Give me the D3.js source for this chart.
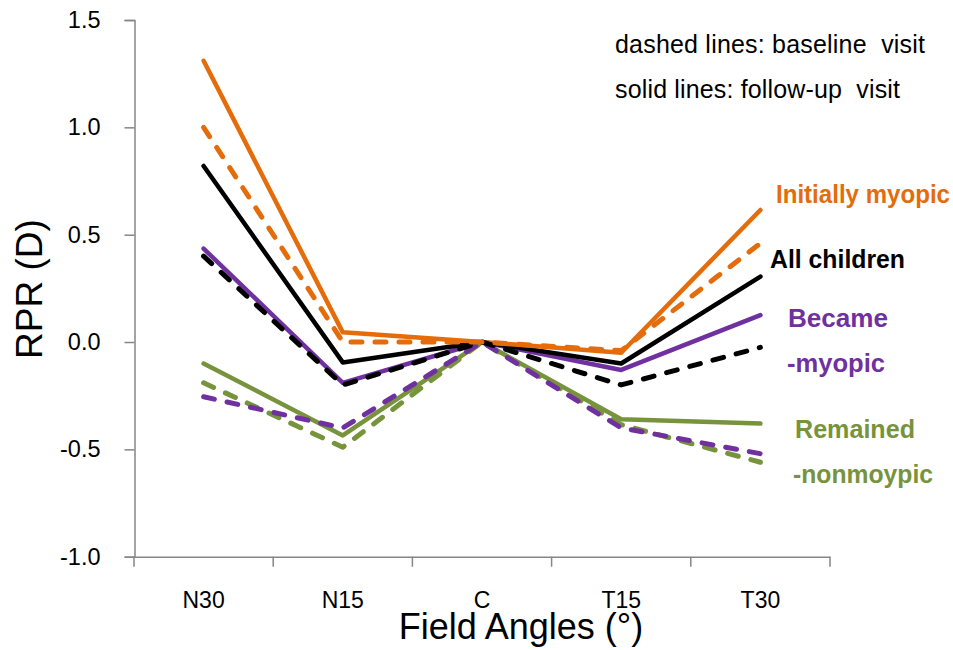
<!DOCTYPE html>
<html>
<head>
<meta charset="utf-8">
<script src="https://cdn.jsdelivr.net/npm/d3@7"></script>
<style>
  body { margin: 0; background: #fff; }
  text { font-family: "Liberation Sans", Arial, sans-serif; }
</style>
</head>
<body>
<div id="chart"></div>
<script>
// field angles and tick values
const categories = ["N30", "N15", "C", "T15", "T30"];
const yTicks = [-1.0, -0.5, 0.0, 0.5, 1.0, 1.5];

// RPR (D) per group, follow-up (solid) and baseline (dashed)
const initiallyFollowUp = [1.31, 0.045, 0, -0.05, 0.615];
const initiallyBaseline = [1.0, 0.0, 0, -0.04, 0.46];
const allFollowUp = [0.82, -0.095, 0, -0.10, 0.305];
const allBaseline = [0.40, -0.20, 0, -0.20, -0.025];
const becameFollowUp = [0.435, -0.19, 0, -0.13, 0.125];
const becameBaseline = [-0.255, -0.40, 0, -0.40, -0.52];
const remainedFollowUp = [-0.10, -0.435, 0, -0.36, -0.38];
const remainedBaseline = [-0.19, -0.49, 0, -0.385, -0.56];

const orange = "#E46C0A", purple = "#7030A0", green = "#77933C", black = "#000000";

const series = [
  {values: remainedFollowUp, color: green, dashed: false},
  {values: becameFollowUp, color: purple, dashed: false},
  {values: allFollowUp, color: black, dashed: false},
  {values: initiallyFollowUp, color: orange, dashed: false},
  {values: remainedBaseline, color: green, dashed: true},
  {values: becameBaseline, color: purple, dashed: true},
  {values: allBaseline, color: black, dashed: true},
  {values: initiallyBaseline, color: orange, dashed: true}
];

const width = 953, height = 650;
const svg = d3.select("#chart").append("svg")
  .attr("width", width)
  .attr("height", height);

const x = d3.scaleBand().domain(categories).range([134, 830]);
const y = d3.scaleLinear().domain([-1, 1.5]).range([556.7, 20]);
const cx = d => x(d) + x.bandwidth() / 2;

const axisColor = "#868686";

// y axis
const yAxis = svg.append("g")
  .attr("transform", "translate(134.5,0)")
  .call(d3.axisLeft(y).tickValues(yTicks).tickSize(10).tickPadding(24)
    .tickFormat(d => d3.format(".1f")(d).replace("−", "-")));
yAxis.select(".domain").attr("stroke", axisColor).attr("stroke-width", 1.5);
yAxis.selectAll(".tick line").attr("stroke", axisColor).attr("stroke-width", 1.5);
yAxis.selectAll(".tick text")
  .attr("fill", "#000")
  .style("font-size", "23.5px")
  .style("font-family", "'Liberation Sans', Arial, sans-serif");

// x axis, labels at centers, ticks at category boundaries
const xAxis = svg.append("g")
  .attr("transform", "translate(0,556.7)")
  .call(d3.axisBottom(x).tickSize(0).tickPadding(35).tickSizeOuter(0));
xAxis.select(".domain").attr("stroke", axisColor).attr("stroke-width", 1.5);
xAxis.selectAll(".tick text")
  .attr("fill", "#000")
  .style("font-size", "23px")
  .style("font-family", "'Liberation Sans', Arial, sans-serif");
const bounds = categories.map(d => x(d)).concat([x.range()[1]]);
xAxis.selectAll(".bound").data(bounds).enter().append("line")
  .attr("x1", d => d).attr("x2", d => d)
  .attr("y1", 0).attr("y2", 10)
  .attr("stroke", axisColor).attr("stroke-width", 1.5);

// axis titles
svg.append("text")
  .attr("transform", "translate(42,289) rotate(-90)")
  .attr("text-anchor", "middle")
  .style("font-size", "37px")
  .text("RPR (D)");
svg.append("text")
  .attr("x", 521).attr("y", 639)
  .attr("text-anchor", "middle")
  .style("font-size", "36px")
  .text("Field Angles (°)");

// lines
const line = d3.line()
  .x((d, i) => cx(categories[i]))
  .y(d => y(d));

svg.selectAll(".series").data(series).enter().append("path")
  .attr("class", "series")
  .attr("d", d => line(d.values))
  .attr("fill", "none")
  .attr("stroke", d => d.color)
  .attr("stroke-width", d => d.dashed ? 5 : 4.5)
  .attr("stroke-linecap", "round")
  .attr("stroke-linejoin", "round")
  .attr("stroke-dasharray", d => d.dashed ? "11,13" : null);

// notes
svg.append("text")
  .attr("x", 615).attr("y", 53)
  .attr("xml:space", "preserve")
  .attr("textLength", 310)
  .style("font-size", "25px")
  .text("dashed lines: baseline  visit");
svg.append("text")
  .attr("x", 615).attr("y", 98)
  .attr("xml:space", "preserve")
  .attr("textLength", 285)
  .style("font-size", "25px")
  .text("solid lines: follow-up  visit");

// group labels
const labels = [
  {text: "Initially myopic", x: 776, y: 203, w: 174, color: orange},
  {text: "All children", x: 770, y: 268, w: 135, color: black},
  {text: "Became", x: 788, y: 327, w: 100, color: purple},
  {text: "-myopic", x: 787, y: 372, w: 98, color: purple},
  {text: "Remained", x: 795, y: 438, w: 120, color: green},
  {text: "-nonmoypic", x: 793, y: 483, w: 140, color: green}
];
svg.selectAll(".glabel").data(labels).enter().append("text")
  .attr("class", "glabel")
  .attr("x", d => d.x).attr("y", d => d.y)
  .attr("textLength", d => d.w)
  .attr("lengthAdjust", "spacingAndGlyphs")
  .attr("fill", d => d.color)
  .style("font-size", "25px")
  .style("font-weight", "bold")
  .text(d => d.text);
</script>
</body>
</html>
